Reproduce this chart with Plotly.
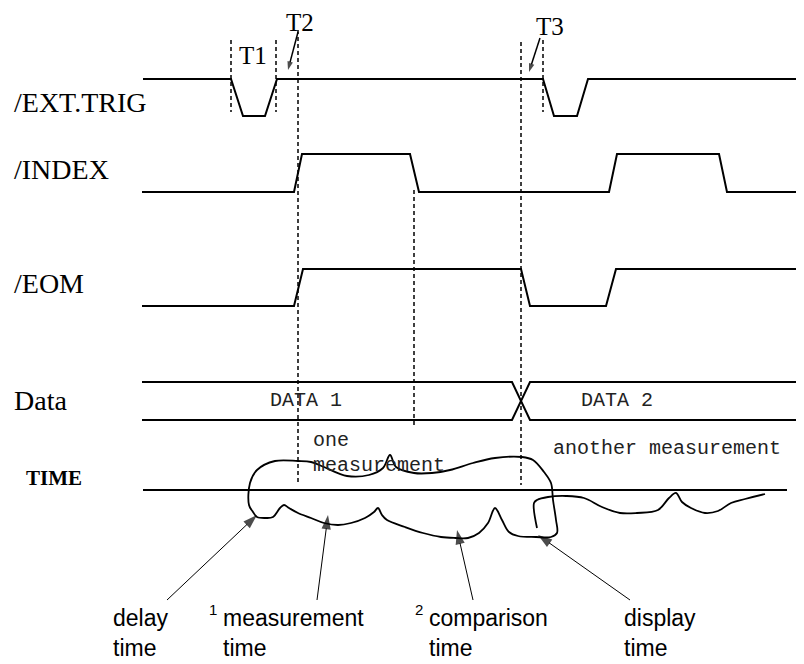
import plotly.graph_objects as go

# ----------------------------------
# WAVEFORMS (time, level)
# ----------------------------------

trig_t = [143, 231, 243, 265, 277, 543, 554, 577, 588, 804]
trig_v = [79, 79, 116, 116, 79, 79, 116, 116, 79, 79]

index_t = [142, 294, 302, 410, 419, 609, 617, 719, 727, 804]
index_v = [192, 192, 154, 154, 192, 192, 154, 154, 192, 192]

eom_t = [142, 294, 303, 521, 530, 606, 616, 804]
eom_v = [306, 306, 269, 269, 306, 306, 269, 269]

data_t = [142, 512, 530, 804]
data_hi = [382, 382, 420, 420]
data_lo = [420, 420, 382, 382]

time_t = [143, 787]
time_v = [490, 490]

# dashed markers: x, y_top, y_bottom
marker_x = [231, 276, 298, 414, 521, 543]
marker_top = [40, 40, 30, 190, 42, 40]
marker_bottom = [112, 112, 485, 425, 485, 112]

# ----------------------------------
# HAND DRAWN CURVES
# ----------------------------------

loop_x = [249, 250, 257, 275, 298, 311, 324, 347, 369, 383, 390, 396, 414,
          432, 450, 473, 495, 522, 533, 544, 551, 553, 556, 557, 551, 536,
          518, 509, 502, 495, 488, 479, 468, 455, 441, 423, 405, 387, 382,
          378, 374, 365, 351, 338, 324, 311, 298, 289, 284, 280, 273, 266,
          257, 253, 249]
loop_y = [505, 483, 470, 461, 461, 462, 467, 476, 475, 468, 455, 467, 473,
          473, 470, 463, 458, 457, 460, 472, 483, 500, 520, 533, 537, 537,
          536, 532, 520, 508, 523, 533, 538, 538, 537, 533, 527, 520, 515,
          508, 512, 518, 523, 525, 523, 518, 513, 508, 505, 508, 517, 518,
          517, 512, 505]

tail_x = [537, 534, 537, 548, 566, 584, 602, 620, 637, 658, 669, 676, 682,
          691, 705, 718, 731, 745, 765]
tail_y = [528, 503, 500, 497, 496, 498, 507, 513, 513, 510, 498, 493, 502,
          508, 513, 511, 503, 499, 494]

# ----------------------------------
# LABELS
# ----------------------------------

signal_names = ["/EXT.TRIG", "/INDEX", "/EOM", "Data"]
signal_y = [102, 169, 283, 400]

t_names = ["T1", "T2", "T3"]
t_x = [253, 300, 550]
t_y = [55, 22, 26]

mono_texts = ["DATA 1", "DATA 2", "one", "measurement", "another measurement"]
mono_x = [268, 579, 311, 311, 551]
mono_y = [400, 400, 440, 465, 448]

# pointers: tail (x, y) -> tip (x, y)
pointer_tail_x = [298, 540]
pointer_tail_y = [32, 38]
pointer_tip_x = [288, 529]
pointer_tip_y = [70, 72]

arrow_tail_x = [167, 317, 473, 630]
arrow_tail_y = [600, 600, 600, 600]
arrow_tip_x = [257, 328, 457, 538]
arrow_tip_y = [515, 515, 530, 535]

bottom_labels = ["delay<br>time", "measurement<br>time",
                 "comparison<br>time", "display<br>time"]
bottom_x = [111, 221, 427, 622]
footnote_marks = ["1", "2"]
footnote_x = [207, 413]

# the page adds an 8px body margin; axes are set so data units = page pixels
PAD = 8

fig = go.Figure()


def add_line(x, y, dash="solid", width=2, shape="linear"):
    fig.add_trace(go.Scatter(
        x=x, y=y, mode="lines",
        line=dict(color="black", width=width, dash=dash, shape=shape),
        hoverinfo="skip", showlegend=False
    ))


def add_arrow(x0, y0, x1, y1, width, head):
    fig.add_trace(go.Scatter(
        x=[x0, x1], y=[y0, y1], mode="lines+markers",
        line=dict(color="black", width=width),
        marker=dict(symbol="arrow", angleref="previous", size=[0, head],
                    color="black", line=dict(width=0)),
        hoverinfo="skip", showlegend=False
    ))


for t, v in [(trig_t, trig_v), (index_t, index_v), (eom_t, eom_v),
             (data_t, data_hi), (data_t, data_lo), (time_t, time_v)]:
    add_line(t, v)

for x, y0, y1 in zip(marker_x, marker_top, marker_bottom):
    add_line([x, x], [y0, y1], dash="4px,3px", width=1.5)

add_line(loop_x, loop_y, width=1.8, shape="spline")
add_line(tail_x, tail_y, width=1.8, shape="spline")

for x0, y0, x1, y1 in zip(pointer_tail_x, pointer_tail_y,
                          pointer_tip_x, pointer_tip_y):
    add_arrow(x0, y0, x1, y1, 1.5, 9)

for x0, y0, x1, y1 in zip(arrow_tail_x, arrow_tail_y,
                          arrow_tip_x, arrow_tip_y):
    add_arrow(x0, y0, x1, y1, 1, 15)

annotations = []

for name, y in zip(signal_names, signal_y):
    annotations.append(dict(
        x=12, y=y, text=name, showarrow=False, xanchor="left",
        font=dict(family="Liberation Serif", size=28, color="black")
    ))

annotations.append(dict(
    x=24, y=478, text="<b>TIME</b>", showarrow=False, xanchor="left",
    font=dict(family="Liberation Serif", size=21, color="black")
))

for name, x, y in zip(t_names, t_x, t_y):
    annotations.append(dict(
        x=x, y=y, text=name, showarrow=False,
        font=dict(family="Liberation Serif", size=25, color="black")
    ))

for text, x, y in zip(mono_texts, mono_x, mono_y):
    annotations.append(dict(
        x=x, y=y, text=text, showarrow=False, xanchor="left",
        font=dict(family="Liberation Mono", size=20, color="#222")
    ))

for text, x in zip(bottom_labels, bottom_x):
    annotations.append(dict(
        x=x, y=633, text=text, showarrow=False, xanchor="left",
        align="left",
        font=dict(family="Liberation Sans", size=23, color="black")
    ))

for mark, x in zip(footnote_marks, footnote_x):
    annotations.append(dict(
        x=x, y=609, text=mark, showarrow=False, xanchor="left",
        font=dict(family="Liberation Sans", size=15, color="black")
    ))

fig.update_layout(
    width=804 - PAD, height=664 - PAD,
    margin=dict(l=0, r=0, t=0, b=0),
    paper_bgcolor="white", plot_bgcolor="white",
    xaxis=dict(range=[PAD, 804], visible=False, fixedrange=True),
    yaxis=dict(range=[664, PAD], visible=False, fixedrange=True),
    annotations=annotations
)

fig.write_html("out.html")
